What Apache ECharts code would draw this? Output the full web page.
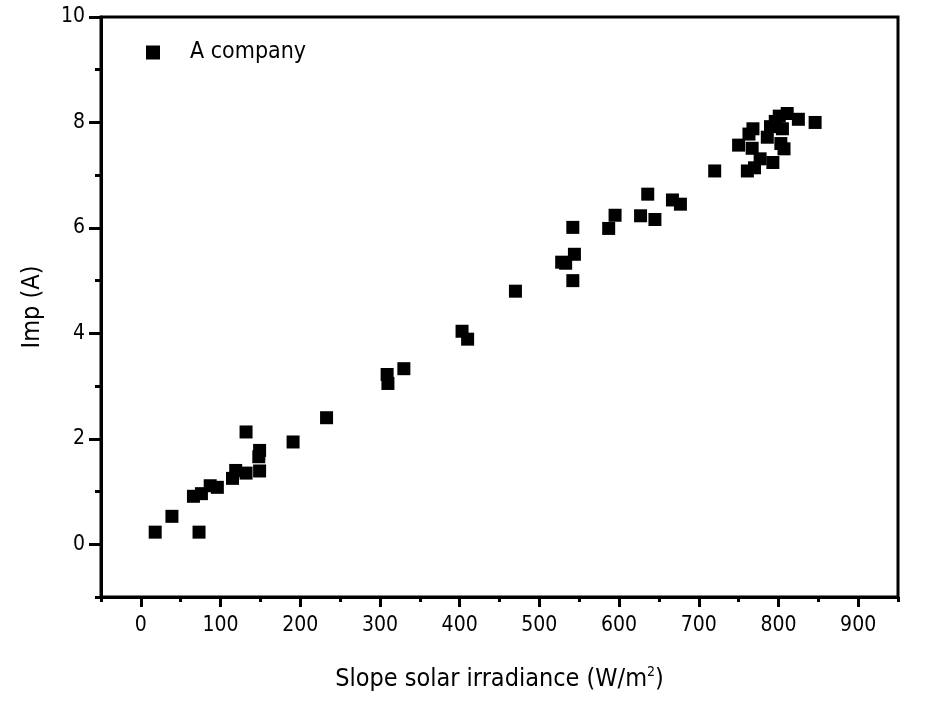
<!DOCTYPE html>
<html>
<head>
<meta charset="utf-8">
<script src="https://cdn.jsdelivr.net/npm/echarts@6/dist/echarts.min.js"></script>
<style>html,body{margin:0;padding:0;background:#fff;}#c{width:932px;height:701px;}</style>
</head>
<body>
<div id="c"></div>
<script>
const seriesName = 'A company';
const irradiance = [18,39,73,66,76,87,96,115,119,132,132,149,148,149,191,233,309,310,330,403,410,470,528,533,544,542,542,587,595,627,636,645,667,677,720,761,770,777,750,763,768,767,786,790,796,801,811,805,803,807,793,825,846];
const imp = [0.23,0.53,0.23,0.91,0.96,1.11,1.08,1.25,1.40,1.35,2.13,1.78,1.66,1.39,1.94,2.40,3.22,3.05,3.33,4.04,3.89,4.80,5.35,5.33,5.50,5.00,6.01,5.99,6.24,6.23,6.64,6.16,6.53,6.45,7.08,7.08,7.14,7.31,7.57,7.78,7.88,7.51,7.72,7.92,8.02,8.12,8.17,7.88,7.60,7.50,7.24,8.06,8.00];
const xMajorTicks = [0,100,200,300,400,500,600,700,800,900];
const yMajorTicks = [0,2,4,6,8,10];

const FONT = "'Liberation Sans Narrow','DejaVu Sans Condensed',sans-serif";
const chart = echarts.init(document.getElementById('c'));
const data = irradiance.map((x, i) => [x, imp[i]]);

chart.setOption({
  animation: false,
  backgroundColor: '#fff',
  grid: { left: 101, top: 17, width: 797, height: 580, show: true, borderColor: '#000', borderWidth: 3, backgroundColor: 'transparent' },
  legend: {
    left: 141, top: 36,
    icon: 'rect', itemWidth: 14, itemHeight: 14,
    itemStyle: { opacity: 1 },
    textStyle: { fontFamily: FONT, fontSize: 23, color: '#000', padding: [0, 0, 0, 25] },
    data: [seriesName]
  },
  xAxis: [{
    type: 'value', min: -50, max: 950, position: 'bottom',
    name: 'Slope solar irradiance (W/m{sup|2})',
    nameLocation: 'middle', nameGap: 68,
    nameTextStyle: { fontFamily: FONT, fontSize: 25, color: '#000',
      rich: { sup: { fontFamily: FONT, fontSize: 14, color: '#000', padding: [0, 0, 14, 0] } } },
    axisLine: { show: true, onZero: false, lineStyle: { color: '#000', width: 3 } },
    axisTick: { show: true, length: 10, customValues: xMajorTicks, lineStyle: { color: '#000', width: 3 } },
    axisLabel: { customValues: xMajorTicks, margin: 18, fontFamily: FONT, fontSize: 21, color: '#000' },
    splitLine: { show: false }
  }, {
    type: 'value', min: -50, max: 950, interval: 50, position: 'bottom',
    axisLine: { show: false, onZero: false },
    axisTick: { show: true, length: 5, lineStyle: { color: '#000', width: 3 } },
    axisLabel: { show: false },
    splitLine: { show: false }
  }],
  yAxis: [{
    type: 'value', min: -1, max: 10, position: 'left',
    name: 'Imp (A)', nameLocation: 'middle', nameGap: 56,
    nameTextStyle: { fontFamily: FONT, fontSize: 25, color: '#000' },
    axisLine: { show: true, onZero: false, lineStyle: { color: '#000', width: 3 } },
    axisTick: { show: true, length: 12, customValues: yMajorTicks, lineStyle: { color: '#000', width: 3 } },
    axisLabel: { customValues: yMajorTicks, margin: 16, fontFamily: FONT, fontSize: 21, color: '#000' },
    splitLine: { show: false }
  }, {
    type: 'value', min: -1, max: 10, interval: 1, position: 'left',
    axisLine: { show: false, onZero: false },
    axisTick: { show: true, length: 6, lineStyle: { color: '#000', width: 3 } },
    axisLabel: { show: false },
    splitLine: { show: false }
  }],
  series: [{
    name: seriesName, type: 'scatter', xAxisIndex: 0, yAxisIndex: 0,
    symbol: 'rect', symbolSize: 13,
    itemStyle: { color: '#000', opacity: 1 },
    data: data
  }]
});
</script>
</body>
</html>
